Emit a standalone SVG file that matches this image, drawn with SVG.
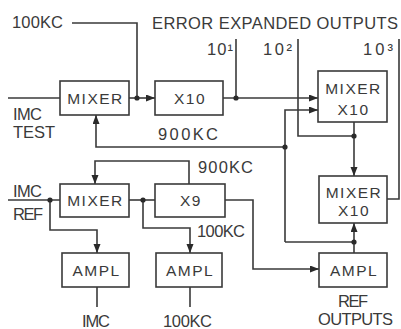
<svg xmlns="http://www.w3.org/2000/svg" width="401" height="329" viewBox="0 0 401 329">
<style>
.bg{fill:#ffffff}
.box{fill:none;stroke:#3a3a3a;stroke-width:1.6}
.ln{fill:none;stroke:#3a3a3a;stroke-width:1.6}
.dot{fill:#2a2a2a}
text{font-family:"Liberation Sans","DejaVu Sans",sans-serif;fill:#3a3a3a;font-size:16.5px}
.bt{text-anchor:middle;font-size:15.5px;letter-spacing:1.5px}
</style>
<defs>
<marker id="ah" markerUnits="userSpaceOnUse" markerWidth="10" markerHeight="8" refX="9" refY="3.5" orient="auto">
<path d="M0,0 L9,3.5 L0,7 z" fill="#2a2a2a"/>
</marker>
</defs>
<rect class="bg" x="0" y="0" width="401" height="329"/>

<g id="connectors">
<path class="ln" d="M72,23 H137 V98"/>
<path class="ln" d="M8,98 H60"/>
<path class="ln" d="M129,98 H155" marker-end="url(#ah)"/>
<path class="ln" d="M223,98 H318" marker-end="url(#ah)"/>
<path class="ln" d="M236,39 V98"/>
<path class="ln" d="M298,39 V136 H354"/>
<path class="ln" d="M354,122 V176" marker-end="url(#ah)"/>
<path class="ln" d="M399,39 V199 H387"/>
<path class="ln" d="M285,242 V110 H318" marker-end="url(#ah)"/>
<path class="ln" d="M285,147 H96 V115" marker-end="url(#ah)"/>
<path class="ln" d="M285,242 H354"/>
<path class="ln" d="M354,253 V223" marker-end="url(#ah)"/>
<path class="ln" d="M8,200 H60"/>
<path class="ln" d="M50,200 V230 H97 V253" marker-end="url(#ah)"/>
<path class="ln" d="M129,200 H155"/>
<path class="ln" d="M143,200 V228 H190 V253" marker-end="url(#ah)"/>
<path class="ln" d="M189,184 V161 H95 V184" marker-end="url(#ah)"/>
<path class="ln" d="M225,200 H253 V269 H319" marker-end="url(#ah)"/>
<path class="ln" d="M97,287 V307"/>
<path class="ln" d="M190,287 V307"/>
<circle class="dot" cx="137" cy="98" r="2.6"/>
<circle class="dot" cx="236" cy="98" r="2.6"/>
<circle class="dot" cx="354" cy="136" r="2.6"/>
<circle class="dot" cx="285" cy="147" r="2.6"/>
<circle class="dot" cx="354" cy="242" r="2.6"/>
<circle class="dot" cx="50" cy="200" r="2.6"/>
<circle class="dot" cx="143" cy="200" r="2.6"/>
</g>

<g id="mixer1">
<rect class="box" x="60" y="81" width="69" height="34"/>
<text class="bt" x="95.5" y="104">MIXER</text>
</g>
<g id="x10">
<rect class="box" x="155" y="81" width="68" height="34"/>
<text class="bt" x="190" y="104">X10</text>
</g>
<g id="mixer-x10-a">
<rect class="box" x="318" y="71" width="69" height="51"/>
<text class="bt" x="353.5" y="94">MIXER</text>
<text class="bt" x="353.5" y="115">X10</text>
</g>
<g id="mixer-x10-b">
<rect class="box" x="319" y="176" width="68" height="47"/>
<text class="bt" x="354" y="198">MIXER</text>
<text class="bt" x="354" y="216">X10</text>
</g>
<g id="mixer2">
<rect class="box" x="60" y="184" width="69" height="33"/>
<text class="bt" x="95.5" y="206">MIXER</text>
</g>
<g id="x9">
<rect class="box" x="155" y="184" width="70" height="33"/>
<text class="bt" x="191" y="206">X9</text>
</g>
<g id="ampl1">
<rect class="box" x="62" y="253" width="67" height="34"/>
<text class="bt" x="96.5" y="276">AMPL</text>
</g>
<g id="ampl2">
<rect class="box" x="156" y="253" width="66" height="34"/>
<text class="bt" x="190" y="276">AMPL</text>
</g>
<g id="ampl3">
<rect class="box" x="319" y="253" width="68" height="34"/>
<text class="bt" x="354" y="276">AMPL</text>
</g>

<g id="labels">
<text x="12" y="28" textLength="51" lengthAdjust="spacing">100KC</text>
<text x="152" y="29" textLength="246" lengthAdjust="spacing">ERROR EXPANDED OUTPUTS</text>
<text x="207" y="55" textLength="26" lengthAdjust="spacing">10¹</text>
<text x="263" y="55" textLength="29" lengthAdjust="spacing">10²</text>
<text x="363" y="55" textLength="30" lengthAdjust="spacing">10³</text>
<text x="13" y="120" textLength="29" lengthAdjust="spacing">IMC</text>
<text x="13" y="138" textLength="42" lengthAdjust="spacing">TEST</text>
<text x="158" y="140" textLength="60" lengthAdjust="spacing">900KC</text>
<text x="198" y="173" textLength="55" lengthAdjust="spacing">900KC</text>
<text x="197" y="237" textLength="48" lengthAdjust="spacing">100KC</text>
<text x="13" y="197" textLength="29" lengthAdjust="spacing">IMC</text>
<text x="13" y="220" textLength="30" lengthAdjust="spacing">REF</text>
<text x="82" y="327" textLength="28" lengthAdjust="spacing">IMC</text>
<text x="163" y="327" textLength="49" lengthAdjust="spacing">100KC</text>
<text x="338" y="307" textLength="30" lengthAdjust="spacing">REF</text>
<text x="318" y="325" textLength="75" lengthAdjust="spacing">OUTPUTS</text>
</g>
</svg>
